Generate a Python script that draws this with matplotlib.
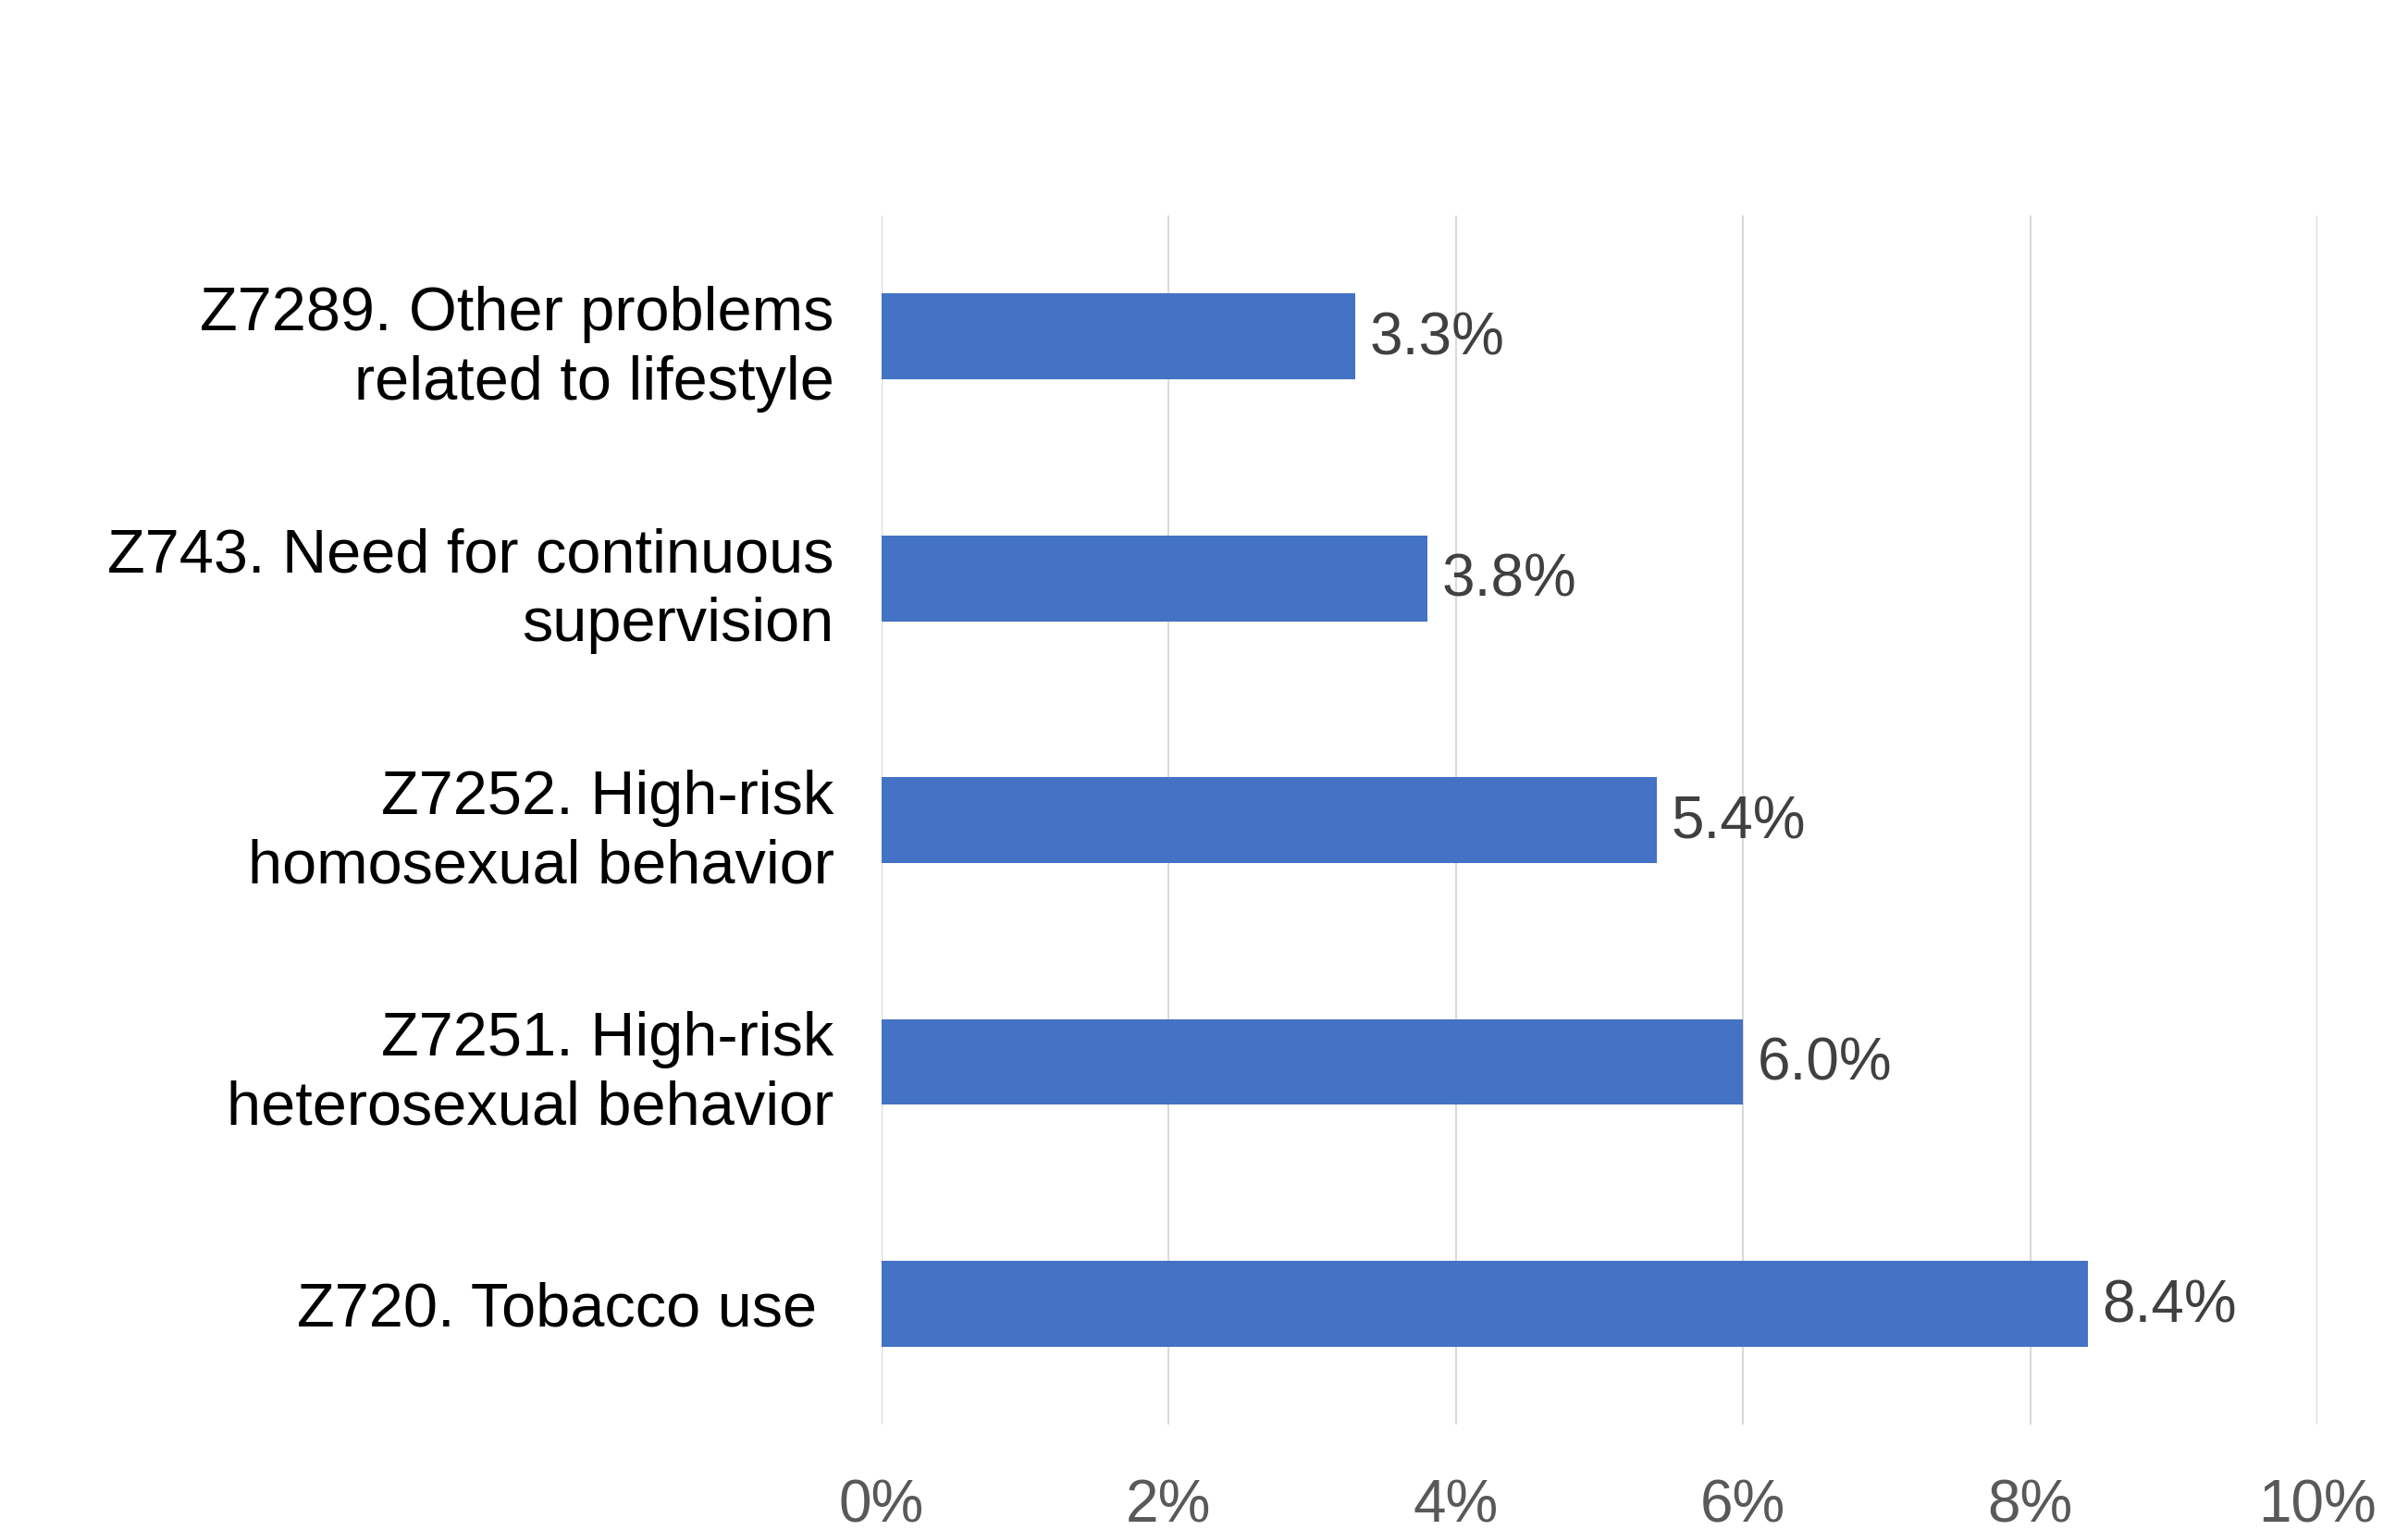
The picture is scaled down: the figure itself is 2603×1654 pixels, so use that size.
import matplotlib.pyplot as plt
from matplotlib.ticker import FuncFormatter

categories = [
    "Z7289. Other problems\nrelated to lifestyle",
    "Z743. Need for continuous\nsupervision",
    "Z7252. High-risk\nhomosexual behavior",
    "Z7251. High-risk\nheterosexual behavior",
    "Z720. Tobacco use ",
]
shares = [3.3, 3.8, 5.4, 6.0, 8.4]
x_ticks = [0, 2, 4, 6, 8, 10]

plt.rcParams['font.family'] = ['Liberation Sans', 'DejaVu Sans']

fig = plt.figure(figsize=(26.03, 16.54), dpi=100)
ax = fig.add_axes([0.3661, 0.0689, 0.5963, 0.7902])

ypos = list(range(len(categories)))
bars = ax.barh(ypos, shares, height=0.355, color='#4472C4', zorder=3)

for bar, val in zip(bars, shares):
    ax.annotate(f"{val:.1f}%", (bar.get_width(), bar.get_y() + bar.get_height() / 2),
                xytext=(11, -2), textcoords='offset points', va='center', ha='left',
                fontsize=46, color='#404040')

ax.set_ylim(len(categories) - 0.5, -0.5)
ax.set_yticks(ypos)
ax.set_yticklabels(categories, fontsize=48, color='black', linespacing=1.27)

ax.set_xlim(0, 10)
ax.set_xticks(x_ticks)
ax.xaxis.set_major_formatter(FuncFormatter(lambda v, _: f"{v:.0f}%"))
ax.tick_params(axis='x', labelsize=46, labelcolor='#595959', length=0, pad=42)
ax.tick_params(axis='y', length=0, pad=37)

ax.grid(axis='x', color='#D9D9D9', linewidth=1.5, zorder=0)
for s in ax.spines.values():
    s.set_visible(False)

fig.savefig('out.png', dpi=100, facecolor='white')
